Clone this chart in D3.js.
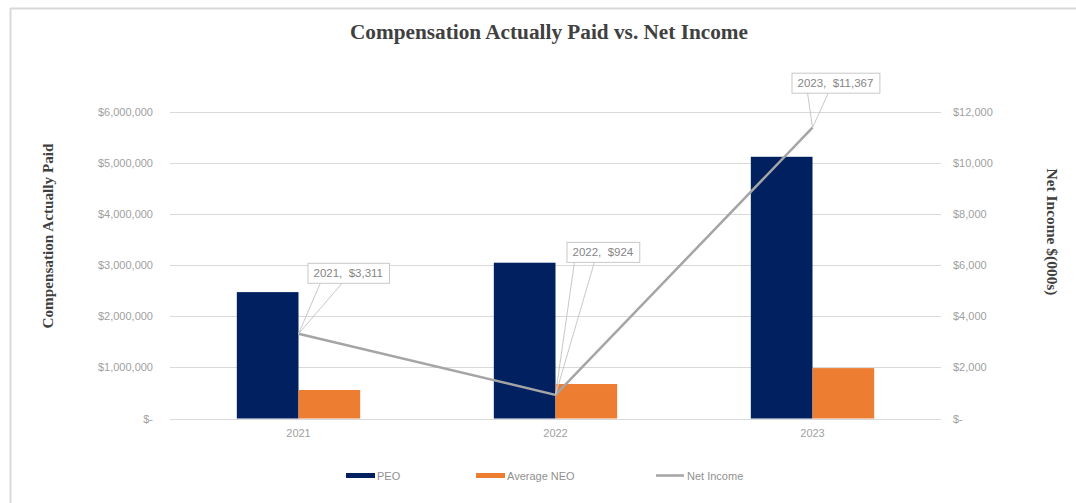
<!DOCTYPE html>
<html>
<head>
<meta charset="utf-8">
<script src="https://cdn.jsdelivr.net/npm/d3@7"></script>
<style>
  html, body { margin: 0; padding: 0; background: #fff; }
  svg { display: block; }
</style>
</head>
<body>
<svg id="chart" width="1076" height="503"></svg>
<script>
const years = ["2021", "2022", "2023"];
const peo = [2470000, 3045000, 5115000];
const avgNeo = [557000, 674000, 985000];
const netIncome = [3311, 924, 11367];
const leftTicks = [0, 1000000, 2000000, 3000000, 4000000, 5000000, 6000000];
const leftTickLabels = ["$-", "$1,000,000", "$2,000,000", "$3,000,000", "$4,000,000", "$5,000,000", "$6,000,000"];
const rightTicks = [0, 2000, 4000, 6000, 8000, 10000, 12000];
const rightTickLabels = ["$-", "$2,000", "$4,000", "$6,000", "$8,000", "$10,000", "$12,000"];
const netLabels = ["2021,  $3,311", "2022,  $924", "2023,  $11,367"];
const seriesNames = ["PEO", "Average NEO", "Net Income"];
const colors = { peo: "#002060", neo: "#ED7D31", line: "#A5A5A5" };

const svg = d3.select("#chart");
const W = 1076, H = 503;
const plot = { left: 170, right: 941, top: 111.5, bottom: 418.5 };
const labelFont = "Liberation Sans, Arial, sans-serif";
const labelColor = "#a0a0a0";

// frame
svg.append("line").attr("x1", 10).attr("x2", W).attr("y1", 8.5).attr("y2", 8.5)
  .attr("stroke", "#d9d9d9").attr("stroke-width", 2);
svg.append("line").attr("x1", 10.5).attr("x2", 10.5).attr("y1", 8).attr("y2", H)
  .attr("stroke", "#d9d9d9").attr("stroke-width", 2);

const x = d3.scaleBand().domain(years).range([plot.left, plot.right]).padding(0);
const yL = d3.scaleLinear().domain([0, 6000000]).range([plot.bottom, plot.top]);
const yR = d3.scaleLinear().domain([0, 12000]).range([plot.bottom, plot.top]);
const barW = x.bandwidth() * 0.24;

// gridlines
svg.append("g").selectAll("line").data(leftTicks).join("line")
  .attr("x1", plot.left).attr("x2", plot.right)
  .attr("y1", d => Math.round(yL(d)) + 0.5).attr("y2", d => Math.round(yL(d)) + 0.5)
  .attr("stroke", "#d9d9d9").attr("stroke-width", 1);

// left axis
const leftAxis = d3.axisLeft(yL).tickValues(leftTicks)
  .tickFormat((d, i) => leftTickLabels[i]).tickSize(0).tickPadding(17);
const gL = svg.append("g").attr("transform", `translate(${plot.left},0)`).call(leftAxis);
gL.select(".domain").remove();
gL.selectAll("text").attr("fill", labelColor).style("font-family", labelFont).style("font-size", "11px");

// right axis
const rightAxis = d3.axisRight(yR).tickValues(rightTicks)
  .tickFormat((d, i) => rightTickLabels[i]).tickSize(0).tickPadding(12);
const gR = svg.append("g").attr("transform", `translate(${plot.right},0)`).call(rightAxis);
gR.select(".domain").remove();
gR.selectAll("text").attr("fill", labelColor).style("font-family", labelFont).style("font-size", "11px");

// bottom axis
const bottomAxis = d3.axisBottom(x).tickSize(0).tickPadding(11);
const gB = svg.append("g").attr("transform", `translate(0,${plot.bottom})`).call(bottomAxis);
gB.select(".domain").remove();
gB.selectAll("text").attr("fill", labelColor).style("font-family", labelFont).style("font-size", "11px");

// bars
svg.append("g").selectAll("rect").data(years).join("rect")
  .attr("x", d => x(d) + x.bandwidth() / 2 - barW)
  .attr("width", barW)
  .attr("y", (d, i) => yL(peo[i]))
  .attr("height", (d, i) => yL(0) - yL(peo[i]))
  .attr("fill", colors.peo);
svg.append("g").selectAll("rect").data(years).join("rect")
  .attr("x", d => x(d) + x.bandwidth() / 2)
  .attr("width", barW)
  .attr("y", (d, i) => yL(avgNeo[i]))
  .attr("height", (d, i) => yL(0) - yL(avgNeo[i]))
  .attr("fill", colors.neo);

// line
const pts = years.map((d, i) => [x(d) + x.bandwidth() / 2, yR(netIncome[i])]);
svg.append("path").attr("d", d3.line()(pts))
  .attr("fill", "none").attr("stroke", colors.line).attr("stroke-width", 2.5);

// callouts (offsets relative to data point)
const callout = [
  { dx: 9, dy: -71, b1: 13, b2: 35 },
  { dx: 11, dy: -153, b1: 8, b2: 28 },
  { dx: -21, dy: -55, b1: 16, b2: 37 }
];
const cg = svg.append("g");
pts.forEach((p, i) => {
  const c = callout[i];
  const bx = p[0] + c.dx, by = p[1] + c.dy;
  const t = cg.append("text").attr("x", bx + 6).attr("y", by + 14.5)
    .attr("fill", "#858585").style("font-family", labelFont)
    .style("font-size", "11.5px").style("white-space", "pre").attr("xml:space", "preserve")
    .text(netLabels[i]);
  const bw = t.node().getComputedTextLength() + 12, bh = 20;
  cg.insert("path", "text")
    .attr("d", `M${bx + c.b1},${by + bh} L${p[0]},${p[1]} L${bx + c.b2},${by + bh}`)
    .attr("fill", "none").attr("stroke", "#c8c8c8").attr("stroke-width", 1);
  cg.insert("rect", "text").attr("x", bx + 0.5).attr("y", by + 0.5).attr("width", bw).attr("height", bh)
    .attr("fill", "#fff").attr("stroke", "#c8c8c8").attr("stroke-width", 1);
});

// title
svg.append("text").attr("x", 549).attr("y", 39).attr("text-anchor", "middle")
  .attr("fill", "#404040").style("font-family", "Liberation Serif, Times New Roman, serif")
  .style("font-weight", "bold").style("font-size", "20px")
  .attr("textLength", 398).attr("lengthAdjust", "spacingAndGlyphs")
  .text("Compensation Actually Paid vs. Net Income");

// axis titles
svg.append("text").attr("transform", "translate(53,236) rotate(-90)").attr("text-anchor", "middle")
  .attr("fill", "#404040").style("font-family", "Liberation Serif, Times New Roman, serif")
  .style("font-weight", "bold").style("font-size", "15px")
  .attr("textLength", 185).attr("lengthAdjust", "spacingAndGlyphs")
  .text("Compensation Actually Paid");
svg.append("text").attr("transform", "translate(1047,232) rotate(90)").attr("text-anchor", "middle")
  .attr("fill", "#404040").style("font-family", "Liberation Serif, Times New Roman, serif")
  .style("font-weight", "bold").style("font-size", "15px")
  .attr("textLength", 127).attr("lengthAdjust", "spacingAndGlyphs")
  .text("Net Income $(000s)");

// legend
const legendX = [346, 476, 656];
const lg = svg.append("g");
seriesNames.forEach((name, i) => {
  if (i < 2) {
    lg.append("rect").attr("x", legendX[i]).attr("y", 473).attr("width", 29).attr("height", 5)
      .attr("fill", i === 0 ? colors.peo : colors.neo);
  } else {
    lg.append("line").attr("x1", legendX[i]).attr("x2", legendX[i] + 28).attr("y1", 475.5).attr("y2", 475.5)
      .attr("stroke", colors.line).attr("stroke-width", 2.5);
  }
  lg.append("text").attr("x", legendX[i] + 31).attr("y", 479.5)
    .attr("fill", "#909090").style("font-family", labelFont).style("font-size", "11px")
    .text(name);
});
</script>
</body>
</html>
